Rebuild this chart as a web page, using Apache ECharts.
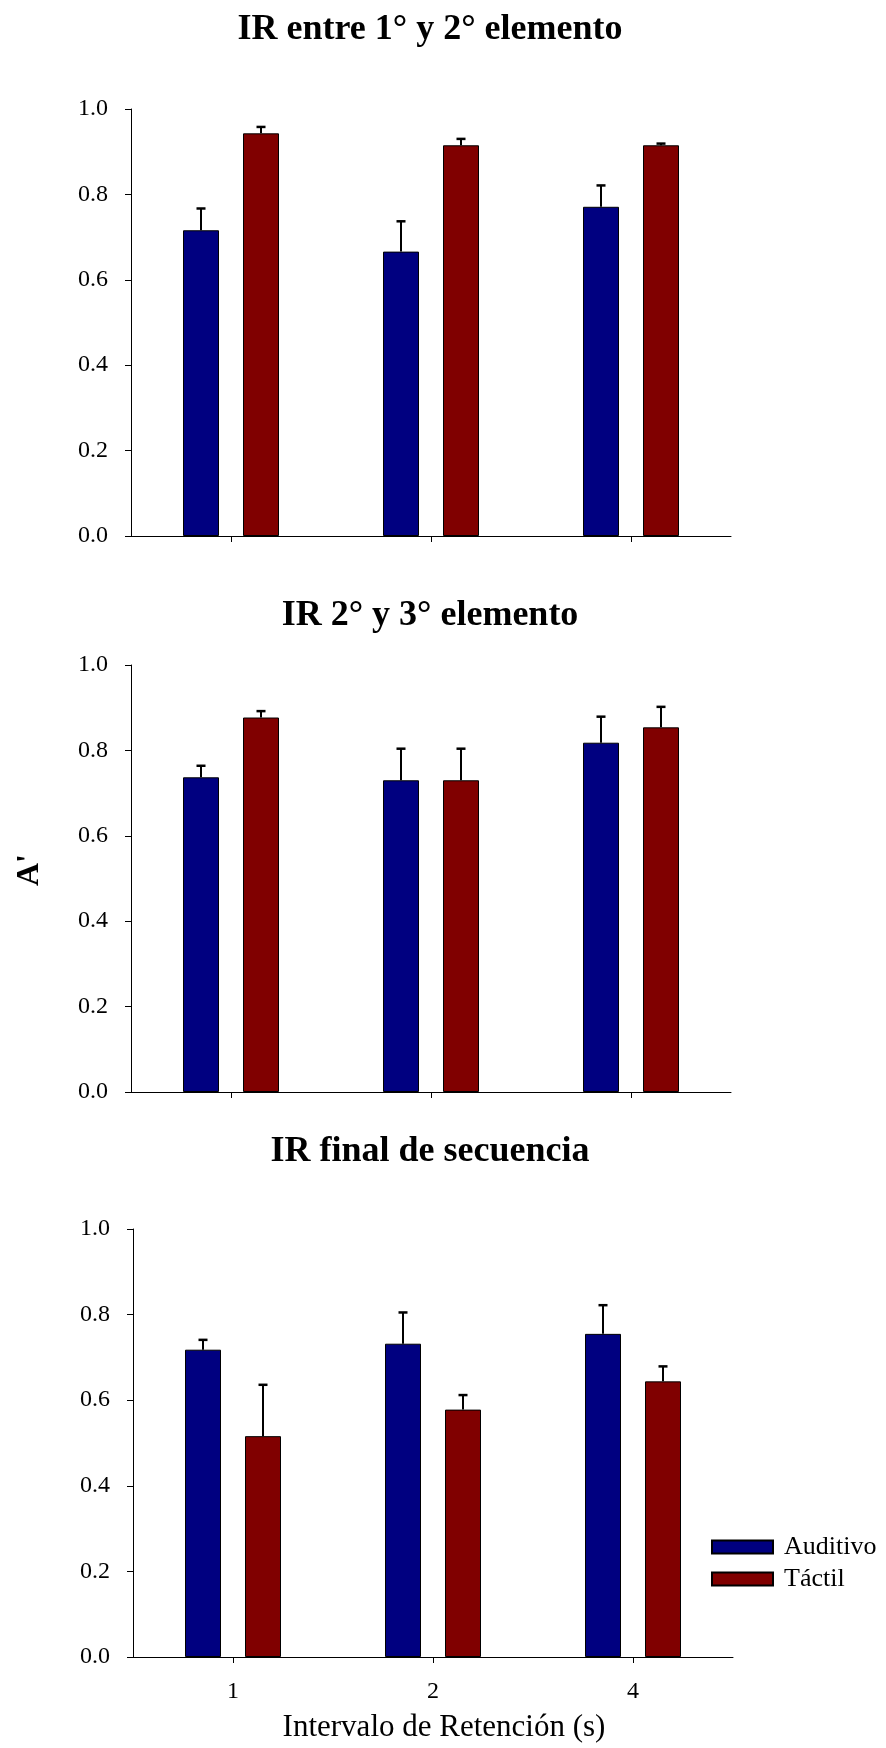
<!DOCTYPE html>
<html>
<head>
<meta charset="utf-8">
<script src="https://cdn.jsdelivr.net/npm/echarts@6/dist/echarts.min.js"></script>
<style>
html,body{margin:0;padding:0;background:#fff;}
#chart{width:886px;height:1748px;}
</style>
</head>
<body>
<div id="chart"></div>
<script>
// ---- data ----
const categories = ['1', '2', '4'];
const yTicks = [0, 0.2, 0.4, 0.6, 0.8, 1.0];
const panelTitles = ['IR entre 1° y 2° elemento', 'IR 2° y 3° elemento', 'IR final de secuencia'];
const seriesNames = ['Auditivo', 'Táctil'];

const auditivo1 = [0.716, 0.666, 0.771];
const auditivoErr1 = [0.051, 0.071, 0.050];
const tactil1 = [0.943, 0.915, 0.915];
const tactilErr1 = [0.015, 0.015, 0.004];

const auditivo2 = [0.737, 0.730, 0.818];
const auditivoErr2 = [0.027, 0.074, 0.061];
const tactil2 = [0.877, 0.730, 0.854];
const tactilErr2 = [0.015, 0.074, 0.048];

const auditivo3 = [0.718, 0.732, 0.755];
const auditivoErr3 = [0.023, 0.073, 0.067];
const tactil3 = [0.516, 0.578, 0.644];
const tactilErr3 = [0.120, 0.034, 0.035];

const xAxisTitle = 'Intervalo de Retención (s)';
const yAxisTitle = "A'";

// ---- styling ----
const FONT = "'Liberation Serif', 'Times New Roman', serif";
const BLUE = '#000080';
const RED = '#800000';
const BAR_W = 36;
const BAR_GAP_PX = 24;

const panels = [
  { means: [auditivo1, tactil1], errs: [auditivoErr1, tactilErr1], grid: { left: 131, top: 109, width: 600, height: 427 } },
  { means: [auditivo2, tactil2], errs: [auditivoErr2, tactilErr2], grid: { left: 131, top: 665, width: 600, height: 427 } },
  { means: [auditivo3, tactil3], errs: [auditivoErr3, tactilErr3], grid: { left: 133, top: 1229, width: 600, height: 428 } }
];
const titleTops = [12, 598, 1134];

const grids = [], xAxes = [], yAxes = [], series = [], titles = [];

panels.forEach((p, i) => {
  grids.push(p.grid);
  const last = i === panels.length - 1;
  xAxes.push({
    type: 'category', gridIndex: i, data: categories,
    axisLine: { show: true, lineStyle: { color: '#000', width: 1 } },
    axisTick: { show: true, alignWithLabel: true, length: 6, lineStyle: { color: '#000' } },
    axisLabel: { show: last, color: '#000', fontFamily: FONT, fontSize: 24, margin: 23 },
    splitLine: { show: false }
  });
  yAxes.push({
    type: 'value', gridIndex: i, min: 0, max: 1, interval: 0.2,
    axisLine: { show: true, lineStyle: { color: '#000', width: 1 } },
    axisTick: { show: true, length: 6, lineStyle: { color: '#000' } },
    axisLabel: { color: '#000', fontFamily: FONT, fontSize: 24, margin: 23,
      formatter: v => yTicks.indexOf(Math.round(v * 10) / 10) >= 0 ? v.toFixed(1) : '' },
    splitLine: { show: false }
  });

  [0, 1].forEach(s => {
    series.push({
      type: 'bar', name: seriesNames[s], xAxisIndex: i, yAxisIndex: i,
      data: p.means[s], barWidth: BAR_W, barGap: (BAR_GAP_PX / BAR_W * 100) + '%',
      itemStyle: { color: s === 0 ? BLUE : RED, borderColor: '#000', borderWidth: 1 },
      z: 2
    });
  });
  [0, 1].forEach(s => {
    const offset = (s === 0 ? -1 : 1) * (BAR_W + BAR_GAP_PX) / 2;
    series.push({
      type: 'custom', xAxisIndex: i, yAxisIndex: i, z: 5,
      data: p.means[s].map((m, k) => [k, m, m + p.errs[s][k]]),
      renderItem: (params, api) => {
        const base = api.coord([api.value(0), api.value(1)]);
        const top = api.coord([api.value(0), api.value(2)]);
        const x = base[0] + offset;
        return {
          type: 'group',
          children: [
            { type: 'line', shape: { x1: x, y1: base[1], x2: x, y2: top[1] }, style: { stroke: '#000', lineWidth: 2 } },
            { type: 'line', shape: { x1: x - 4.5, y1: top[1], x2: x + 4.5, y2: top[1] }, style: { stroke: '#000', lineWidth: 2.5 } }
          ]
        };
      },
      silent: true, tooltip: { show: false }
    });
  });

  titles.push({
    text: panelTitles[i], left: 430, top: titleTops[i], textAlign: 'center', padding: 0,
    textStyle: { fontFamily: FONT, fontSize: 36, fontWeight: 'bold', color: '#000' }
  });
});

titles.push({
  text: xAxisTitle, left: 444, top: 1712, textAlign: 'center', padding: 0,
  textStyle: { fontFamily: FONT, fontSize: 31, fontWeight: 'normal', color: '#000' }
});

const chart = echarts.init(document.getElementById('chart'), null, { renderer: 'canvas' });
chart.setOption({
  backgroundColor: '#fff',
  animation: false,
  title: titles,
  grid: grids,
  xAxis: xAxes,
  yAxis: yAxes,
  graphic: [{
    type: 'text', x: 30, y: 870, rotation: Math.PI / 2,
    style: { text: yAxisTitle, fill: '#000', font: 'bold 32px ' + FONT, align: 'center', verticalAlign: 'middle' }
  }],
  legend: {
    data: seriesNames, orient: 'vertical', left: 711, top: 1534,
    itemWidth: 61, itemHeight: 13, itemGap: 6,
    icon: 'rect', padding: 0,
    textStyle: { fontFamily: FONT, fontSize: 26, color: '#000', padding: [0, 0, 0, 6] },
    selectedMode: false
  },
  series: series
});
</script>
</body>
</html>
